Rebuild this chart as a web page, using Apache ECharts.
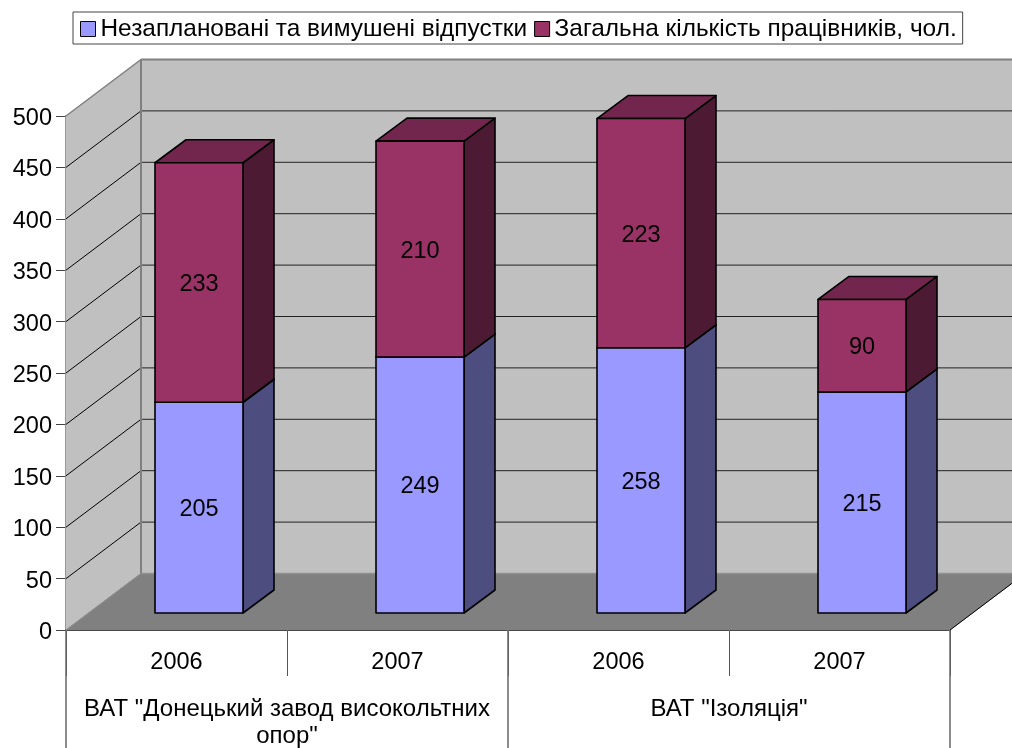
<!DOCTYPE html>
<html><head><meta charset="utf-8">
<style>html,body{margin:0;padding:0;background:#fff}#c{width:1012px;height:748px}</style>
<script src="https://cdn.jsdelivr.net/npm/echarts@6/dist/echarts.min.js"></script>
</head><body><div id="c"></div>
<script>
const years = ['2006', '2007', '2006', '2007'];
const companies = ['ВАТ "Донецький завод високольтних\nопор"', 'ВАТ "Ізоляція"'];
const seriesNames = ['Незаплановані та вимушені відпустки', 'Загальна кількість працівників, чол.'];
const unplanned = [205, 249, 258, 215];
const employees = [233, 210, 223, 90];
const yTicks = [0, 50, 100, 150, 200, 250, 300, 350, 400, 450, 500];

const FONT = '"Liberation Sans", Arial, sans-serif';
const FS = 23.5;
const WALL = { dx: 75, dy: -56.5 };
const BAR = { shiftX: 22.5, shiftY: -17, half: 44, dx: 31, dy: -23 };

function poly(points, fill, stroke, lw) {
  return { type: 'polygon', shape: { points }, style: { fill, stroke: stroke || fill, lineWidth: lw || 1, lineJoin: 'round' } };
}
function seg(a, b, stroke, lw) {
  return { type: 'line', shape: { x1: a[0], y1: a[1], x2: b[0], y2: b[1] }, style: { stroke, lineWidth: lw || 1 } };
}

function renderWalls(params, api) {
  const cs = params.coordSys;
  const L = cs.x, R = cs.x + cs.width;
  const y = v => api.coord([0, v])[1];
  const d = WALL, c = [];
  c.push(poly([[L, y(0)], [L + d.dx, y(0) + d.dy], [L + d.dx, y(500) + d.dy], [L, y(500)]], '#c0c0c0'));
  c.push(poly([[L + d.dx, y(0) + d.dy], [R + d.dx, y(0) + d.dy], [R + d.dx, y(500) + d.dy], [L + d.dx, y(500) + d.dy]], '#c0c0c0'));
  c.push(poly([[L, y(0)], [R, y(0)], [R + d.dx, y(0) + d.dy], [L + d.dx, y(0) + d.dy]], '#808080'));
  yTicks.forEach(v => {
    if (v === 0 || v === 500) return;
    c.push(seg([L, y(v)], [L + d.dx, y(v) + d.dy], '#000', 1));
    c.push(seg([L + d.dx, y(v) + d.dy], [R + d.dx, y(v) + d.dy], '#222', 1));
  });
  c.push(seg([L + d.dx, y(500) + d.dy], [R + d.dx, y(500) + d.dy], '#808080', 2));
  c.push(seg([L, y(500)], [L + d.dx, y(500) + d.dy], '#808080', 1.5));
  c.push(seg([L + d.dx, y(0) + d.dy], [L + d.dx, y(500) + d.dy], '#808080', 2));
  c.push(seg([L, y(0)], [L + d.dx, y(0) + d.dy], '#909090', 1));
  c.push(seg([L + d.dx, y(0) + d.dy], [R + d.dx, y(0) + d.dy], '#909090', 1.5));
  c.push(seg([R, y(0)], [R + d.dx, y(0) + d.dy], '#000', 1));
  return { type: 'group', children: c };
}

function barRenderer(front, top, side) {
  return function (params, api) {
    const i = api.value(0), base = api.value(1), val = api.value(2);
    const cx = api.coord([i, 0])[0] + BAR.shiftX;
    const y0 = api.coord([i, base])[1] + BAR.shiftY;
    const y1 = api.coord([i, base + val])[1] + BAR.shiftY;
    const l = cx - BAR.half, r = cx + BAR.half;
    const S = '#000', W = 1.6;
    return { type: 'group', children: [
      poly([[r, y0], [r + BAR.dx, y0 + BAR.dy], [r + BAR.dx, y1 + BAR.dy], [r, y1]], side, S, W),
      poly([[l, y1], [r, y1], [r + BAR.dx, y1 + BAR.dy], [l + BAR.dx, y1 + BAR.dy]], top, S, W),
      poly([[l, y0], [r, y0], [r, y1], [l, y1]], front, S, W),
      { type: 'text', style: { text: String(val), x: cx, y: (y0 + y1) / 2 + 2, align: 'center', verticalAlign: 'middle', font: FS + 'px ' + FONT, fill: '#000' } }
    ] };
  };
}

const chart = echarts.init(document.getElementById('c'), null, { renderer: 'canvas' });
chart.setOption({
  animation: false,
  backgroundColor: '#fff',
  textStyle: { fontFamily: FONT },
  legend: {
    left: 73, top: 12, itemWidth: 15, itemHeight: 15, itemGap: 7,
    padding: [5, 6, 3, 7],
    backgroundColor: '#fff', borderColor: '#444', borderWidth: 1,
    icon: 'rect', selectedMode: false,
    textStyle: { fontFamily: FONT, fontSize: 24.4, color: '#000', padding: [3, 0, 0, 0] },
    itemStyle: { borderColor: '#000', borderWidth: 1 },
    data: seriesNames
  },
  grid: { left: 66, right: 62, top: 116, bottom: 118, outerBoundsMode: 'none' },
  xAxis: [
    { type: 'category', data: years, position: 'bottom',
      axisLine: { show: true, lineStyle: { color: '#111', width: 2 } },
      axisTick: { show: true, length: 46, lineStyle: { color: '#555', width: 1 } },
      axisLabel: { interval: 0, margin: 21, fontSize: FS, color: '#000', fontFamily: FONT } },
    { type: 'category', data: companies, position: 'bottom',
      axisLine: { show: false },
      axisTick: { show: true, length: 118, lineStyle: { color: '#666', width: 1.5 } },
      axisLabel: { interval: 0, margin: 66, fontSize: 24, lineHeight: 27, color: '#000', fontFamily: FONT, align: 'center' } }
  ],
  yAxis: { type: 'value', min: 0, max: 500, interval: 50,
    splitLine: { show: false },
    axisLine: { show: true, lineStyle: { color: '#707070', width: 2 } },
    axisTick: { show: true, length: 10, lineStyle: { color: '#444', width: 1 } },
    axisLabel: { margin: 14, fontSize: FS, color: '#000', fontFamily: FONT, verticalAlign: 'top', lineHeight: 23, padding: [-9, 0, 0, 0] } },
  series: [
    { type: 'custom', name: 'walls', silent: true, z: 1, clip: false, renderItem: renderWalls, data: [[0, 0]], encode: { x: 0, y: 1 } },
    { type: 'custom', name: seriesNames[0], z: 2, clip: false, silent: true,
      itemStyle: { color: '#9999ff' },
      renderItem: barRenderer('#9999ff', '#73739f', '#4d4d80'),
      encode: { x: 0, y: 1 },
      data: unplanned.map((v, i) => [i, 0, v]) },
    { type: 'custom', name: seriesNames[1], z: 3, clip: false, silent: true,
      itemStyle: { color: '#993366' },
      renderItem: barRenderer('#993366', '#73264d', '#4d1a33'),
      encode: { x: 0, y: 1 },
      data: employees.map((v, i) => [i, unplanned[i], v]) }
  ]
});
</script></body></html>
